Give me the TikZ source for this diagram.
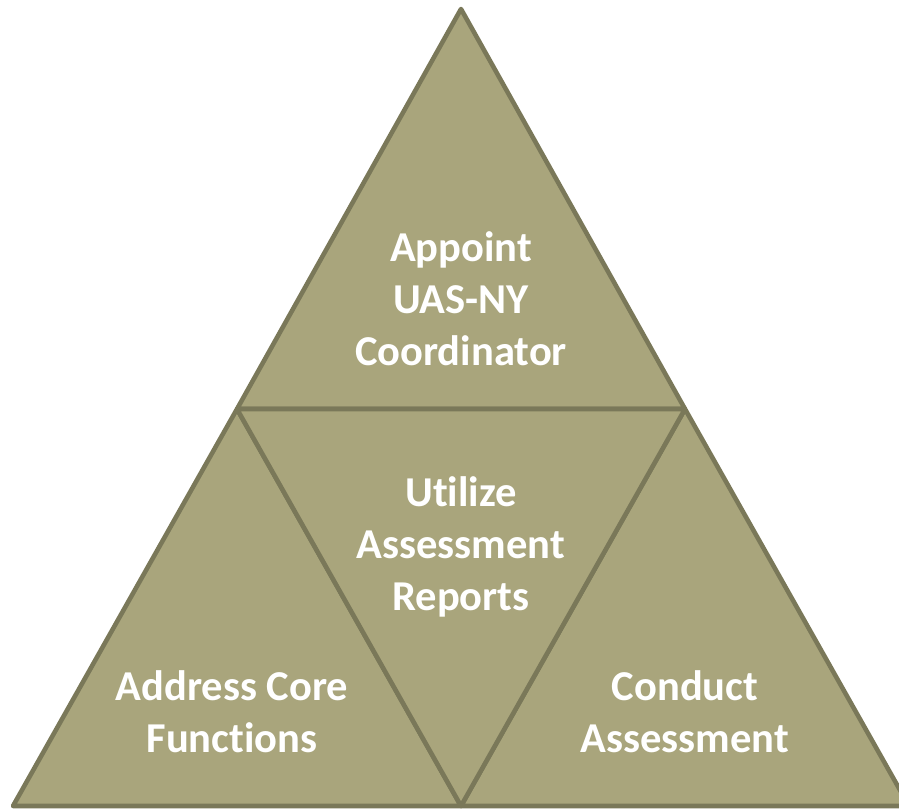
\documentclass[tikz,border=0pt]{standalone}
\usepackage{fontspec}
\setmainfont[Ligatures={NoCommon}]{Carlito}
\usepackage{tikz}

\definecolor{olivefill}{RGB}{169,165,124}
\definecolor{oliveedge}{RGB}{122,120,89}

\begin{document}
\begin{tikzpicture}[x=0.01cm,y=-0.01cm,
  tri/.style={fill=olivefill, draw=oliveedge, line width=1.3pt, line join=round},
  lbl/.style={text=white, font=\fontsize{12.1}{14.8}\selectfont\bfseries, align=center}]
\useasboundingbox (0,0) rectangle (899,809);

\coordinate (top) at (461,9);
\coordinate (midL) at (237,409);
\coordinate (midR) at (685,409);
\coordinate (botL) at (13,806);
\coordinate (botM) at (461,806);
\coordinate (botR) at (909,806);

\draw[tri] (top) -- (midR) -- (midL) -- cycle;
\draw[tri] (midL) -- (botM) -- (botL) -- cycle;
\draw[tri] (midR) -- (botR) -- (botM) -- cycle;
\draw[tri] (midL) -- (midR) -- (botM) -- cycle;

\node[lbl] (appoint) at (461,299) {Appoint\\UAS-NY\\Coordinator};
\node[lbl] (utilize) at (461,547) {Utilize\\Assessment\\Reports};
\node[lbl] (address) at (232,712) {Address Core\\Functions};
\node[lbl] (conduct) at (685,712) {Conduct\\Assessment};

\end{tikzpicture}
\end{document}
